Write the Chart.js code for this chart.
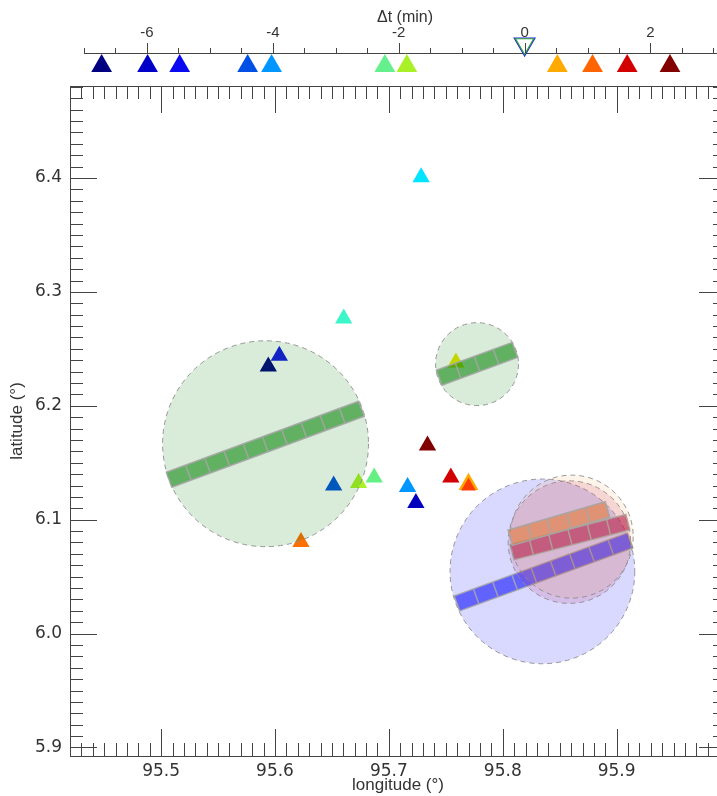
<!DOCTYPE html>
<html>
<head>
<meta charset="utf-8">
<script src="https://cdn.jsdelivr.net/npm/chart.js@4/dist/chart.umd.min.js"></script>
<style>
  html, body { margin: 0; padding: 0; overflow: hidden; background: #fff; width: 717px; height: 796px; }
  #dtBox { position: absolute; left: 0; top: 0; width: 730px; height: 80px; }
  #mapBox { position: absolute; left: 0; top: 80px; width: 730px; height: 716px; }
</style>
</head>
<body>
<div id="dtBox"><canvas id="dtChart"></canvas></div>
<div id="mapBox"><canvas id="mapChart"></canvas></div>
<script>
'use strict';

// ---- values ----

// stations on the map (triangles)
var stationLon = [95.7283, 95.6603, 95.6038, 95.5941, 95.7588, 95.7339, 95.6515, 95.6734, 95.6871, 95.7164, 95.7237, 95.7544, 95.7699, 95.7699, 95.6228];
var stationLat = [6.4006, 6.2766, 6.2439, 6.2345, 6.2380, 6.1652, 6.1301, 6.1322, 6.1371, 6.1287, 6.1146, 6.1371, 6.1311, 6.1294, 6.0804];
var stationColors = ['#00e5ff', '#3cf5c8', '#1414e6', '#000080', '#e6e600', '#800000', '#0050dc', '#aaf028',
                     '#64f082', '#0096ff', '#0000be', '#d20000', '#ffaa00', '#ff3c00', '#ff6e00'];
var stationSize = [10, 10, 10, 10, 10, 10, 10, 10, 10, 10, 10, 10, 11.5, 8.5, 10];

// delta-t strip on top
var dtValues = [-6.72, -5.99, -5.48, -4.40, -4.02, -2.22, -1.87, 0.52, 1.08, 1.63, 2.31];
var dtColors = ['#000080', '#0000c8', '#0a0af0', '#0050e6', '#0096ff', '#64f08c', '#aaf028', '#ffaa00', '#ff6400', '#d20000', '#820000'];
var dtOrigin = [0];

// tick labels
var dtTicks = [-6, -4, -2, 0, 2];
var lonTicks = [95.5, 95.6, 95.7, 95.8, 95.9];
var latTicks = [5.9, 6.0, 6.1, 6.2, 6.3, 6.4];

// source areas (circle centre and radius in degrees)
var areaLon = [95.5917, 95.7774, 95.8348, 95.8585, 95.8605];
var areaLat = [6.1667, 6.2366, 6.0546, 6.0803, 6.0851];
var areaRadius = [0.0904, 0.0364, 0.0811, 0.0538, 0.0540];

// fault strips, one per area: ends and number of patches
var stripLon1 = [95.5070, 95.7441, 95.7598, 95.8082, 95.8066];
var stripLat1 = [6.1351, 6.2246, 6.0265, 6.0715, 6.0842];
var stripLon2 = [95.6759, 95.8107, 95.9118, 95.9098, 95.8919];
var stripLat2 = [6.1974, 6.2491, 6.0818, 6.0978, 6.1091];
var stripPatches = [10, 4, 9, 6, 5];

// styles
var areaFill = ['rgba(0,128,0,0.15)', 'rgba(0,128,0,0.15)', 'rgba(0,0,255,0.15)', 'rgba(180,20,90,0.14)', 'rgba(255,150,40,0.10)'];
var stripFill = ['rgba(0,128,0,0.55)', 'rgba(0,128,0,0.55)', 'rgba(0,0,255,0.55)', 'rgba(170,0,60,0.55)', 'rgba(230,110,20,0.5)'];
var stripWidth = 0.014;

var inkColor = '#444';
var labelColor = '#333';

function noPadding(s) {
    s.paddingTop = 0;
    s.paddingBottom = 0;
    s.paddingLeft = 0;
    s.paddingRight = 0;
}

var dtTickMarks = {
    id: 'dtTickMarks',
    afterDraw: function (chart) {
        var s = chart.scales.x, ctx = chart.ctx, y0 = chart.chartArea.top;
        ctx.save();
        ctx.strokeStyle = inkColor;
        ctx.lineWidth = 1;
        ctx.beginPath();
        for (var k = Math.ceil(s.min * 2); k <= Math.floor(s.max * 2); k++) {
            var px = Math.round(s.getPixelForValue(k / 2)) + 0.5;
            var major = dtTicks.indexOf(k / 2) >= 0;
            ctx.moveTo(px, y0);
            ctx.lineTo(px, y0 - (major ? 10 : 5));
        }
        ctx.stroke();
        ctx.restore();
    }
};

var frameTicks = {
    id: 'frameTicks',
    afterDraw: function (chart) {
        var a = chart.chartArea, xs = chart.scales.x, ys = chart.scales.y, ctx = chart.ctx;
        ctx.save();
        ctx.strokeStyle = inkColor;
        ctx.lineWidth = 1;
        ctx.strokeRect(Math.round(a.left) + 0.5, Math.round(a.top) + 0.5, Math.round(a.right - a.left), Math.round(a.bottom - a.top));
        ctx.beginPath();
        var k, px, len;
        // every 0.01 degree, long ticks on the 0.1 degree labels
        for (k = Math.ceil(xs.min * 100 - 1e-6); k <= xs.max * 100 + 1e-6; k++) {
            px = Math.round(xs.getPixelForValue(k / 100)) + 0.5;
            len = (k % 10 === 0) ? 27 : 13;
            ctx.moveTo(px, a.bottom); ctx.lineTo(px, a.bottom - len);
            ctx.moveTo(px, a.top); ctx.lineTo(px, a.top + len);
        }
        for (k = Math.ceil(ys.min * 100 - 1e-6); k <= ys.max * 100 + 1e-6; k++) {
            px = Math.round(ys.getPixelForValue(k / 100)) + 0.5;
            len = (k % 10 === 0) ? 27 : 13;
            ctx.moveTo(a.left, px); ctx.lineTo(a.left + len, px);
            ctx.moveTo(a.right, px); ctx.lineTo(a.right - len, px);
        }
        ctx.stroke();
        ctx.restore();
    }
};

var sourceAreas = {
    id: 'sourceAreas',
    afterDatasetsDraw: function (chart) {
        var xs = chart.scales.x, ys = chart.scales.y, ctx = chart.ctx, a = chart.chartArea;
        ctx.save();
        ctx.beginPath();
        ctx.rect(a.left, a.top, a.right - a.left, a.bottom - a.top);
        ctx.clip();
        for (var i = 0; i < areaLon.length; i++) {
            // circle
            var cx = xs.getPixelForValue(areaLon[i]), cy = ys.getPixelForValue(areaLat[i]);
            var r = Math.abs(xs.getPixelForValue(areaLon[i] + areaRadius[i]) - cx);
            ctx.beginPath();
            ctx.arc(cx, cy, r, 0, Math.PI * 2);
            ctx.fillStyle = areaFill[i];
            ctx.fill();
            ctx.setLineDash([5, 4]);
            ctx.strokeStyle = 'rgba(140,140,140,0.9)';
            ctx.lineWidth = 1;
            ctx.stroke();
            ctx.setLineDash([]);

            // strip of patches
            var x1 = xs.getPixelForValue(stripLon1[i]), y1 = ys.getPixelForValue(stripLat1[i]);
            var x2 = xs.getPixelForValue(stripLon2[i]), y2 = ys.getPixelForValue(stripLat2[i]);
            var L = Math.hypot(x2 - x1, y2 - y1);
            var hw = Math.abs(ys.getPixelForValue(stripLat1[i] + stripWidth) - y1) / 2;
            var nx = -(y2 - y1) / L * hw, ny = (x2 - x1) / L * hw;
            ctx.beginPath();
            ctx.moveTo(x1 + nx, y1 + ny);
            ctx.lineTo(x2 + nx, y2 + ny);
            ctx.lineTo(x2 - nx, y2 - ny);
            ctx.lineTo(x1 - nx, y1 - ny);
            ctx.closePath();
            ctx.fillStyle = stripFill[i];
            ctx.fill();
            ctx.strokeStyle = 'rgba(165,165,165,0.9)';
            ctx.lineWidth = 1.5;
            ctx.stroke();
            ctx.beginPath();
            for (var k = 1; k < stripPatches[i]; k++) {
                var qx = x1 + (x2 - x1) * k / stripPatches[i], qy = y1 + (y2 - y1) * k / stripPatches[i];
                ctx.moveTo(qx + nx, qy + ny);
                ctx.lineTo(qx - nx, qy - ny);
            }
            ctx.stroke();
        }
        ctx.restore();
    }
};

var dtChart = new Chart('dtChart', {
    type: 'scatter',
    data: {
        datasets: [{
            data: dtValues.map(function (v) { return {x: v, y: 0}; }),
            pointStyle: 'triangle',
            pointRadius: 12,
            pointBackgroundColor: dtColors,
            pointBorderColor: dtColors,
            pointBorderWidth: 0,
            clip: false
        }, {
            data: dtOrigin.map(function (v) { return {x: v, y: 1}; }),
            pointStyle: 'triangle',
            pointRotation: 180,
            pointRadius: 10.5,
            pointBackgroundColor: 'rgba(0,0,0,0)',
            pointBorderColor: '#2e9e3a',
            pointBorderWidth: 1.2,
            clip: false
        }, {
            data: dtOrigin.map(function (v) { return {x: v, y: 1}; }),
            pointStyle: 'triangle',
            pointRotation: 180,
            pointRadius: 12,
            pointBackgroundColor: 'rgba(0,0,0,0)',
            pointBorderColor: '#2020f0',
            pointBorderWidth: 1.2,
            clip: false
        }]
    },
    options: {
        responsive: true,
        maintainAspectRatio: false,
        animation: false,
        events: [],
        layout: {autoPadding: false, padding: {left: 84, right: 4, top: 0, bottom: 0}},
        plugins: {legend: {display: false}, tooltip: {enabled: false}},
        scales: {
            x: {
                type: 'linear',
                position: 'top',
                min: -7,
                max: 3.2,
                afterBuildTicks: function (s) { s.ticks = dtTicks.map(function (v) { return {value: v}; }); },
                afterFit: function (s) { s.height = 53; noPadding(s); },
                grid: {display: false, drawTicks: false},
                border: {display: true, color: inkColor, width: 1},
                ticks: {
                    padding: 11, color: labelColor, autoSkip: false, maxRotation: 0,
                    font: {family: 'Liberation Sans', size: 15},
                    callback: function (v) { return String(v); }
                },
                title: {
                    display: true, text: 'Δt (min)', color: labelColor,
                    font: {family: 'Liberation Sans', size: 16},
                    padding: {top: 8, bottom: 0}
                }
            },
            y: {display: false, min: -0.636, max: 0.591, afterFit: noPadding}
        }
    },
    plugins: [dtTickMarks]
});

var mapChart = new Chart('mapChart', {
    type: 'scatter',
    data: {
        datasets: [{
            data: stationLon.map(function (lon, i) { return {x: lon, y: stationLat[i]}; }),
            pointStyle: 'triangle',
            pointRadius: stationSize,
            pointBackgroundColor: stationColors,
            pointBorderColor: stationColors,
            pointBorderWidth: 0
        }]
    },
    options: {
        responsive: true,
        maintainAspectRatio: false,
        animation: false,
        events: [],
        layout: {autoPadding: false, padding: {left: 0, right: 4, top: 6, bottom: 0}},
        plugins: {legend: {display: false}, tooltip: {enabled: false}},
        scales: {
            x: {
                type: 'linear',
                position: 'bottom',
                min: 95.42,
                max: 95.996,
                afterBuildTicks: function (s) { s.ticks = lonTicks.map(function (v) { return {value: v}; }); },
                afterFit: function (s) { s.height = 40; noPadding(s); },
                grid: {display: false, drawTicks: false},
                border: {display: false},
                ticks: {
                    padding: 5, color: labelColor, autoSkip: false, maxRotation: 0,
                    font: {family: 'DejaVu Sans', size: 17},
                    callback: function (v) { return v.toFixed(1); }
                },
                title: {
                    display: true, text: 'longitude (°)', color: labelColor,
                    font: {family: 'Liberation Sans', size: 17},
                    padding: {top: 0, bottom: 0}
                }
            },
            y: {
                type: 'linear',
                min: 5.8925,
                max: 6.4808,
                afterBuildTicks: function (s) { s.ticks = latTicks.map(function (v) { return {value: v}; }); },
                afterFit: function (s) { s.width = 70; noPadding(s); },
                grid: {display: false, drawTicks: false},
                border: {display: false},
                ticks: {
                    padding: 8, color: labelColor, autoSkip: false,
                    font: {family: 'DejaVu Sans', size: 17},
                    callback: function (v) { return v.toFixed(1); }
                },
                title: {
                    display: true, text: 'latitude (°)', color: labelColor,
                    font: {family: 'Liberation Sans', size: 17},
                    padding: {top: 7, bottom: 0}
                }
            }
        }
    },
    plugins: [sourceAreas, frameTicks]
});
</script>
</body>
</html>
